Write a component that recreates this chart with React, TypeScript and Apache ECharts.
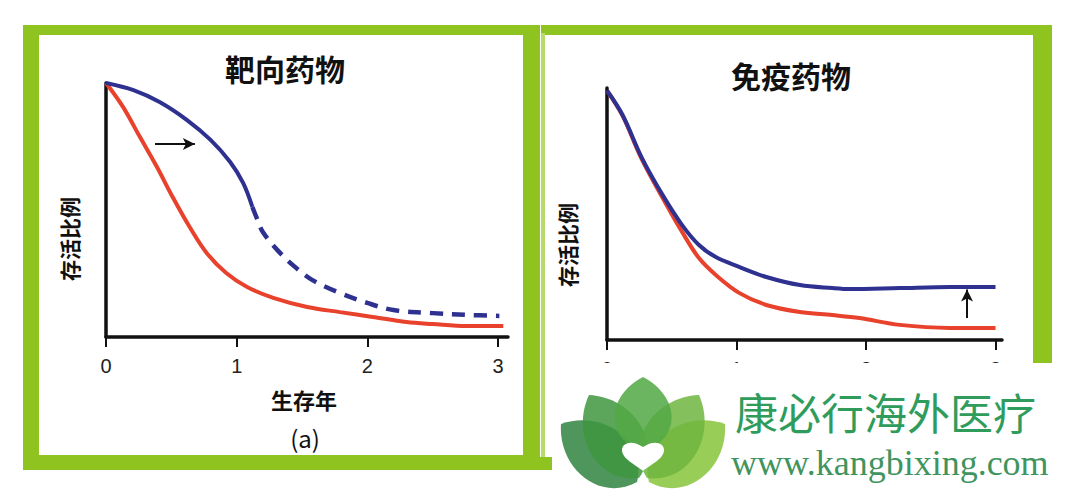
import React, { useEffect, useRef } from "react";
import * as echarts from "echarts";

// ---- data ----
const xTicks = [0, 1, 2, 3];
const leftTitle = "靶向药物";
const rightTitle = "免疫药物";
const yName = "存活比例";
const xName = "生存年";
const caption = "(a)";
const brandCn = "康必行海外医疗";
const brandUrl = "www.kangbixing.com";

const leftBlueSolid = [[0, 1.0], [0.21, 0.972], [0.41, 0.925], [0.62, 0.854], [0.8, 0.776], [0.95, 0.689], [1.05, 0.606], [1.12, 0.512]];
const leftBlueDashed = [[1.12, 0.512], [1.16, 0.46], [1.2, 0.413], [1.31, 0.343], [1.43, 0.283], [1.58, 0.224], [1.79, 0.173], [2.0, 0.134], [2.2, 0.106], [2.5, 0.094], [2.76, 0.087], [3.01, 0.083]];
const leftRed = [[0, 1.0], [0.13, 0.906], [0.26, 0.787], [0.39, 0.669], [0.51, 0.551], [0.64, 0.433], [0.77, 0.331], [0.92, 0.252], [1.08, 0.197], [1.28, 0.154], [1.54, 0.118], [1.79, 0.098], [2.04, 0.079], [2.3, 0.059], [2.5, 0.051], [2.76, 0.043], [3.04, 0.043]];
const leftArrow = [[0.375, 0.76], [0.68, 0.76]];

const rightBlue = [[0, 0.99], [0.12, 0.893], [0.27, 0.722], [0.43, 0.575], [0.58, 0.456], [0.71, 0.377], [0.84, 0.329], [1.02, 0.29], [1.23, 0.25], [1.49, 0.218], [1.74, 0.206], [1.88, 0.202], [2.26, 0.206], [2.65, 0.21], [3.0, 0.21]];
const rightRed = [[0, 0.99], [0.12, 0.89], [0.27, 0.716], [0.46, 0.536], [0.58, 0.429], [0.71, 0.325], [0.84, 0.258], [1.02, 0.187], [1.23, 0.139], [1.49, 0.111], [1.74, 0.099], [1.95, 0.087], [2.26, 0.06], [2.65, 0.048], [3.0, 0.048]];
const rightArrow = [[2.78, 0.087], [2.78, 0.2]];

const BLUE = "#2e3190";
const RED = "#e8412c";
const GREEN = "#8fc31f";
const CJK = '"Noto Sans CJK SC", sans-serif';

echarts.graphic.registerShape(
  "leaf",
  echarts.graphic.extendPath("M0,0 C22,-15 20,-60 0,-80 C-20,-60 -22,-15 0,0 Z", {})
);
echarts.graphic.registerShape(
  "heart",
  echarts.graphic.extendPath("M0,8 C-4,4 -12,0 -12,-6 C-12,-11 -6,-13 0,-8 C6,-13 12,-11 12,-6 C12,0 4,4 0,8 Z", {})
);

function leaf(bx: number, by: number, tx: number, ty: number, w: number, color: string) {
  const dx = tx - bx;
  const dy = ty - by;
  const L = Math.sqrt(dx * dx + dy * dy);
  return {
    type: "leaf",
    x: bx,
    y: by,
    rotation: Math.atan2(-dx, -dy),
    scaleX: w / 32,
    scaleY: L / 80,
    z: 101,
    style: { fill: color, opacity: 0.85 },
  };
}

function xAxisDef(gridIndex: number, max: number) {
  return {
    type: "value",
    gridIndex,
    min: 0,
    max,
    axisLine: { show: true, onZero: true, lineStyle: { color: "#111", width: 3.5 } },
    axisTick: { show: true, customValues: xTicks, length: 10, lineStyle: { color: "#111", width: 2 } },
    axisLabel: { show: true, customValues: xTicks, margin: 19, fontSize: 20, color: "#222", fontFamily: '"Liberation Sans", Arial, sans-serif' },
    splitLine: { show: false },
  };
}
function yAxisDef(gridIndex: number) {
  return {
    type: "value",
    gridIndex,
    min: 0,
    max: 1,
    axisLine: { show: true, onZero: true, lineStyle: { color: "#111", width: 3.5 } },
    axisTick: { show: false },
    axisLabel: { show: false },
    splitLine: { show: false },
  };
}
function arrowLine(pts: number[][]) {
  return {
    silent: true,
    symbol: ["none", "arrow"],
    symbolSize: [9, 12],
    label: { show: false },
    lineStyle: { color: "#111", width: 2, type: "solid" },
    data: [[{ coord: pts[0] }, { coord: pts[1] }]],
  };
}
function text(x: number, y: number, t: string, font: string, extra: any = {}) {
  return {
    type: "text",
    x,
    y,
    z: extra.z ?? 10,
    rotation: extra.rotation ?? 0,
    style: { text: t, font, fill: extra.fill ?? "#111", align: extra.align ?? "center", verticalAlign: "middle", lineHeight: extra.lineHeight },
  };
}
function lineSeries(xi: number, data: number[][], color: string, width: number, type: any = "solid", markLine?: any) {
  return {
    type: "line",
    xAxisIndex: xi,
    yAxisIndex: xi,
    data,
    smooth: 0.35,
    symbol: "none",
    lineStyle: { color, width, type },
    ...(markLine ? { markLine } : {}),
  };
}

export default function App() {
  const ref = useRef<HTMLDivElement>(null);
  useEffect(() => {
    if (!ref.current) return;
    const chart = echarts.init(ref.current, null, { renderer: "svg" });
    const option: any = {
      animation: false,
      backgroundColor: "#ffffff",
      grid: [
        { left: 106, top: 83, width: 402, height: 254 },
        { left: 607, top: 88, width: 395, height: 252 },
      ],
      xAxis: [xAxisDef(0, 3.076), xAxisDef(1, 3.05)],
      yAxis: [yAxisDef(0), yAxisDef(1)],
      series: [
        lineSeries(0, leftRed, RED, 4),
        lineSeries(0, leftBlueSolid, BLUE, 4, "solid", arrowLine(leftArrow)),
        lineSeries(0, leftBlueDashed, BLUE, 4.5, [13, 9]),
        lineSeries(1, rightRed, RED, 4),
        lineSeries(1, rightBlue, BLUE, 4, "solid", arrowLine(rightArrow)),
      ],
      graphic: [
        // left frame
        { type: "rect", z: 5, shape: { x: 23, y: 25, width: 517, height: 10 }, style: { fill: GREEN } },
        { type: "rect", z: 5, shape: { x: 23, y: 25, width: 16, height: 445 }, style: { fill: GREEN } },
        { type: "rect", z: 5, shape: { x: 523, y: 25, width: 17, height: 445 }, style: { fill: GREEN } },
        { type: "rect", z: 5, shape: { x: 23, y: 455, width: 517, height: 15 }, style: { fill: GREEN } },
        // right frame
        { type: "rect", z: 5, shape: { x: 541, y: 25, width: 511, height: 10 }, style: { fill: GREEN } },
        { type: "rect", z: 5, shape: { x: 1033, y: 25, width: 19, height: 338 }, style: { fill: GREEN } },
        { type: "rect", z: 5, shape: { x: 541, y: 33, width: 4, height: 432 }, style: { fill: "#b7da6c" } },
        { type: "rect", z: 5, shape: { x: 540, y: 457, width: 12, height: 13 }, style: { fill: GREEN } },
        // texts
        text(285, 68, leftTitle, `bold 30px ${CJK}`),
        text(791, 75, rightTitle, `bold 30px ${CJK}`),
        text(69, 239, yName, `bold 21px ${CJK}`, { rotation: Math.PI / 2 }),
        text(567, 245, yName, `bold 21px ${CJK}`, { rotation: Math.PI / 2 }),
        text(304, 399, xName, `bold 22px ${CJK}`),
        text(305, 437, caption, `24px ${CJK}`),
        // overlay
        { type: "rect", z: 100, shape: { x: 552, y: 363, width: 528, height: 135 }, style: { fill: "#ffffff" } },
        leaf(637, 482, 561, 424, 58, "#2f8440"),
        leaf(649, 482, 725, 424, 58, "#86c43a"),
        leaf(639, 478, 589, 395, 58, "#3f9640"),
        leaf(647, 478, 699, 395, 58, "#6fb540"),
        leaf(643, 452, 643, 377, 58, "#52a844"),
        { type: "heart", x: 643, y: 459, scaleX: 1.75, scaleY: 1.5, z: 102, style: { fill: "#ffffff" } },
        text(735, 411, brandCn, `43px ${CJK}`, { z: 101, fill: "#2f9c5c", align: "left", lineHeight: 43 }),
        text(731, 463, brandUrl, `36px "Liberation Serif", "Times New Roman", serif`, { z: 101, fill: "#3f9460", align: "left", lineHeight: 36 }),
      ],
    };
    chart.setOption(option);
    return () => chart.dispose();
  }, []);
  return <div ref={ref} style={{ position: "absolute", left: 0, top: 0, width: 1080, height: 498 }} />;
}
